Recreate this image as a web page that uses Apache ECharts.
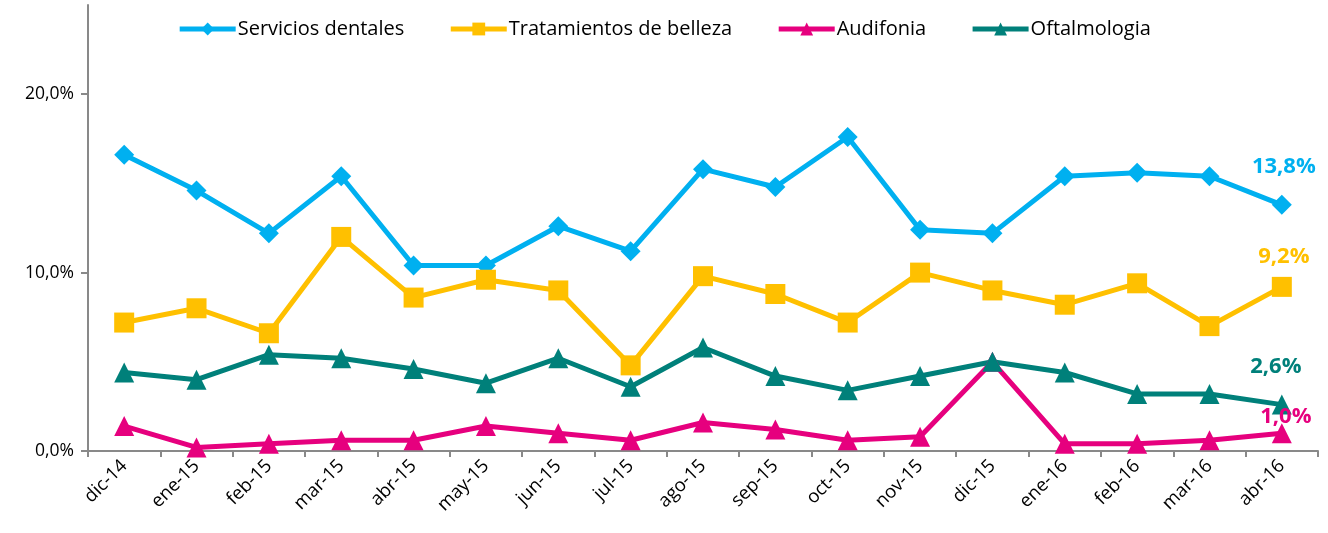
<!DOCTYPE html>
<html>
<head>
<meta charset="utf-8">
<script src="https://cdn.jsdelivr.net/npm/echarts@6/dist/echarts.min.js"></script>
<style>
  html, body { margin: 0; padding: 0; background: #fff; }
  #chart { width: 1328px; height: 533px; }
</style>
</head>
<body>
<div id="chart"></div>
<script>
var months = ['dic-14', 'ene-15', 'feb-15', 'mar-15', 'abr-15', 'may-15', 'jun-15', 'jul-15',
  'ago-15', 'sep-15', 'oct-15', 'nov-15', 'dic-15', 'ene-16', 'feb-16', 'mar-16', 'abr-16'];
var dentales = [16.6, 14.6, 12.2, 15.4, 10.4, 10.4, 12.6, 11.2, 15.8, 14.8, 17.6, 12.4, 12.2, 15.4, 15.6, 15.4, 13.8];
var belleza = [7.2, 8.0, 6.6, 12.0, 8.6, 9.6, 9.0, 4.8, 9.8, 8.8, 7.2, 10.0, 9.0, 8.2, 9.4, 7.0, 9.2];
var audifonia = [1.4, 0.2, 0.4, 0.6, 0.6, 1.4, 1.0, 0.6, 1.6, 1.2, 0.6, 0.8, 5.0, 0.4, 0.4, 0.6, 1.0];
var oftalmologia = [4.4, 4.0, 5.4, 5.2, 4.6, 3.8, 5.2, 3.6, 5.8, 4.2, 3.4, 4.2, 5.0, 4.4, 3.2, 3.2, 2.6];
var yTicks = [0, 10, 20];

var font = "'Open Sans', 'Noto Sans', sans-serif";

function pct(v) {
  return v.toFixed(1).replace('.', ',') + '%';
}

// only the last point gets a value label
function withEndLabel(values, color, offset) {
  return values.map(function (v, i) {
    if (i < values.length - 1) return v;
    return {
      value: v,
      label: {
        show: true,
        position: 'top',
        offset: offset,
        formatter: function (p) { return pct(p.value); },
        color: color,
        fontSize: 22,
        fontWeight: 'bold',
        fontFamily: font
      }
    };
  });
}

function lineSeries(name, values, color, symbol, size, offset) {
  return {
    name: name,
    type: 'line',
    data: withEndLabel(values, color, offset),
    symbol: symbol,
    symbolSize: size,
    showAllSymbol: true,
    lineStyle: { color: color, width: 5 },
    itemStyle: { color: color },
    emphasis: { disabled: true },
    z: 3
  };
}

var chart = echarts.init(document.getElementById('chart'));
chart.setOption({
  animation: false,
  backgroundColor: '#ffffff',
  legend: {
    top: 14,
    left: 'center',
    itemWidth: 56,
    itemHeight: 16,
    itemGap: 44,
    lineStyle: { width: 5 },
    textStyle: { fontSize: 20, color: '#000', fontFamily: font, padding: [0, 0, 0, -3] }
  },
  grid: { left: 88, right: 10, top: 5, bottom: 82 },
  xAxis: {
    type: 'category',
    data: months,
    boundaryGap: true,
    axisLine: { lineStyle: { color: '#898989', width: 2 } },
    axisTick: { show: true, length: 6, lineStyle: { color: '#898989', width: 2 } },
    axisLabel: {
      rotate: 45,
      fontSize: 18.5,
      color: '#000',
      fontFamily: font,
      margin: 12,
      interval: 0
    }
  },
  yAxis: {
    type: 'value',
    min: 0,
    max: 25,
    interval: 10,
    splitLine: { show: false },
    axisLine: { show: true, lineStyle: { color: '#898989', width: 2 } },
    axisTick: { show: true, length: 7, customValues: yTicks, lineStyle: { color: '#898989', width: 2 } },
    axisLabel: {
      customValues: yTicks,
      formatter: function (v) { return pct(v); },
      fontSize: 17.5,
      color: '#000',
      fontFamily: font,
      margin: 14
    }
  },
  series: [
    lineSeries('Servicios dentales', dentales, '#00B0F0', 'diamond', 20, [2, -12]),
    lineSeries('Tratamientos de belleza', belleza, '#FFC000', 'rect', 20, [2, -4]),
    lineSeries('Audifonia', audifonia, '#E6007E', 'triangle', 20, [4, 10]),
    lineSeries('Oftalmologia', oftalmologia, '#00807A', 'triangle', 20, [-6, -12])
  ]
});
</script>
</body>
</html>
